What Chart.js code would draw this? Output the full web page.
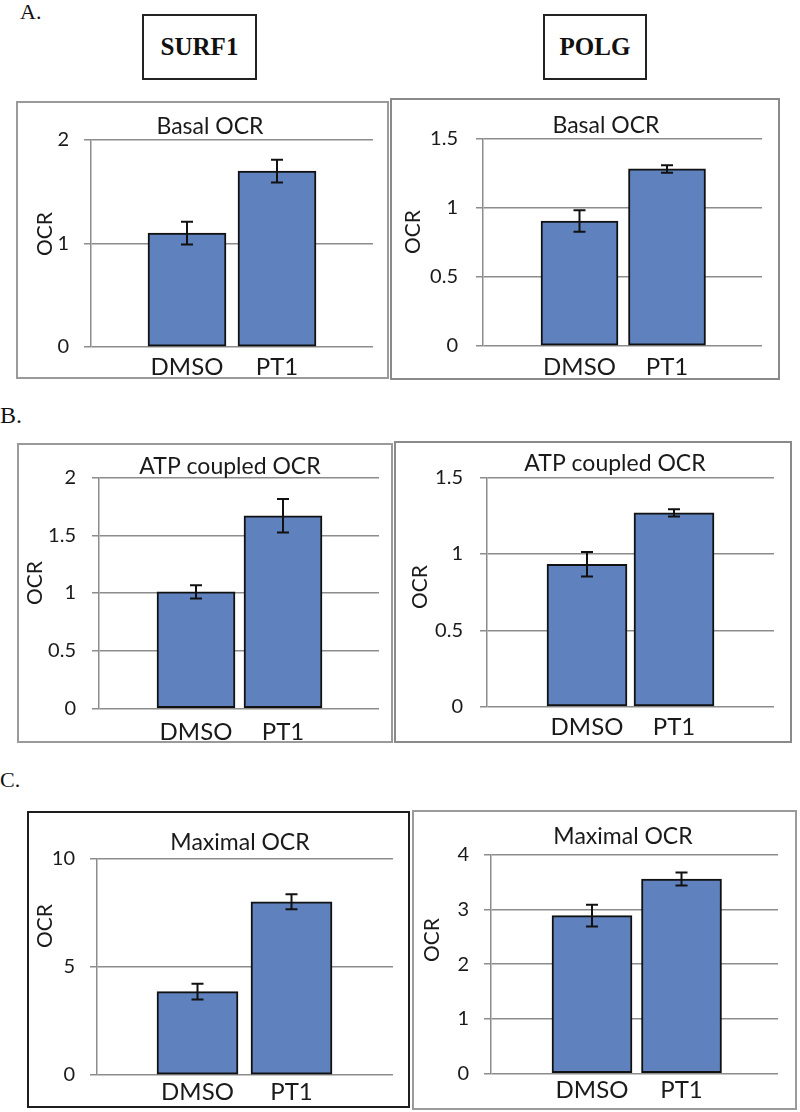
<!DOCTYPE html>
<html><head><meta charset="utf-8">
<script src="https://cdn.jsdelivr.net/npm/chart.js@4.4.1/dist/chart.umd.min.js"></script>
<style>
body{margin:0;background:#fff;width:800px;height:1112px;position:relative;overflow:hidden;font-family:Lato,sans-serif}
.frame{position:absolute;box-sizing:border-box;}
.lbl{position:absolute;font-family:'Liberation Serif',serif;line-height:1;color:#111;white-space:nowrap}
.gene{position:absolute;box-sizing:border-box;border:2px solid #222;display:flex;align-items:center;justify-content:center;font-family:'Liberation Serif',serif;font-weight:bold;font-size:25px;color:#111}
canvas{position:absolute}
</style></head><body>
<div class="lbl" style="left:20px;top:1px;font-size:22px">A.</div>
<div class="lbl" style="left:0px;top:403px;font-size:24px">B.</div>
<div class="lbl" style="left:0px;top:769px;font-size:22px">C.</div>
<div class="gene" style="left:142px;top:14px;width:115px;height:66px">SURF1</div>
<div class="gene" style="left:543px;top:14px;width:104px;height:66px">POLG</div>
<script>
// ---- data ----
const categories = ['DMSO', 'PT1'];

const basalSURF1 = [1.10, 1.70];
const basalSURF1Err = [0.11, 0.11];
const basalPOLG = [0.905, 1.283];
const basalPOLGErr = [0.078, 0.027];

const atpSURF1 = [1.01, 1.67];
const atpSURF1Err = [0.057, 0.145];
const atpPOLG = [0.933, 1.270];
const atpPOLGErr = [0.080, 0.024];

const maxSURF1 = [3.86, 8.02];
const maxSURF1Err = [0.36, 0.35];
const maxPOLG = [2.89, 3.56];
const maxPOLGErr = [0.20, 0.12];

const ticksBasalSURF1 = [0, 1, 2];
const ticksBasalPOLG = [0, 0.5, 1, 1.5];
const ticksAtpSURF1 = [0, 0.5, 1, 1.5, 2];
const ticksAtpPOLG = [0, 0.5, 1, 1.5];
const ticksMaxSURF1 = [0, 5, 10];
const ticksMaxPOLG = [0, 1, 2, 3, 4];

const titles = ['Basal OCR', 'ATP coupled OCR', 'Maximal OCR'];
const yAxisTitle = 'OCR';

// ---- layout (page pixel geometry) ----
const panels = [
  {title: titles[0], values: basalSURF1, errors: basalSURF1Err, ticks: ticksBasalSURF1,
   frame: {x: 16, y: 101, w: 373, h: 278, color: '#9a9a9a'},
   area: {l: 91, r: 373, t: 140, b: 347}, titleX: 210, titleY: 127, ocrX: 45, ocrY: 234, tickRight: 69, labelY: 367,
   barW: 78, c0: 187, c1: 277},
  {title: titles[0], values: basalPOLG, errors: basalPOLGErr, ticks: ticksBasalPOLG,
   frame: {x: 390, y: 98, w: 390, h: 282, color: '#8a8a8a'},
   area: {l: 483, r: 762, t: 139, b: 346}, titleX: 606, titleY: 126, ocrX: 413, ocrY: 232, tickRight: 458, labelY: 367,
   barW: 77, c0: 579.5, c1: 667},
  {title: titles[1], values: atpSURF1, errors: atpSURF1Err, ticks: ticksAtpSURF1,
   frame: {x: 17, y: 443, w: 376, h: 300, color: '#9a9a9a'},
   area: {l: 99, r: 379, t: 477.7, b: 708.3}, titleX: 230, titleY: 467, ocrX: 35, ocrY: 583, tickRight: 76, labelY: 732,
   barW: 78, c0: 196, c1: 283},
  {title: titles[1], values: atpPOLG, errors: atpPOLGErr, ticks: ticksAtpPOLG,
   frame: {x: 394, y: 441, w: 398, h: 302, color: '#8a8a8a'},
   area: {l: 487, r: 774, t: 477.7, b: 706.7}, titleX: 615, titleY: 464, ocrX: 420, ocrY: 587, tickRight: 463, labelY: 727,
   barW: 80, c0: 587, c1: 674},
  {title: titles[2], values: maxSURF1, errors: maxSURF1Err, ticks: ticksMaxSURF1,
   frame: {x: 27, y: 811, w: 383, h: 297, color: '#1e1e1e'},
   area: {l: 97, r: 393, t: 859, b: 1075}, titleX: 240, titleY: 843, ocrX: 45, ocrY: 926, tickRight: 75, labelY: 1092,
   barW: 81, c0: 197.5, c1: 291.5},
  {title: titles[2], values: maxPOLG, errors: maxPOLGErr, ticks: ticksMaxPOLG,
   frame: {x: 412, y: 810, w: 385, h: 300, color: '#9a9a9a'},
   area: {l: 491, r: 778, t: 855, b: 1073.3}, titleX: 623, titleY: 837, ocrX: 432, ocrY: 940, tickRight: 469, labelY: 1090,
   barW: 80, c0: 592, c1: 681.5}
];

const errPlugin = {
  id: 'errbars',
  afterDatasetsDraw(chart) {
    const ctx = chart.ctx, ys = chart.scales.y;
    chart.data.datasets.forEach((ds, di) => {
      const meta = chart.getDatasetMeta(di);
      meta.data.forEach((el, i) => {
        const v = ds.data[i].y, e = ds.errors[i];
        const top = ys.getPixelForValue(v + e), bot = ys.getPixelForValue(v - e);
        ctx.save();
        ctx.strokeStyle = '#111'; ctx.lineWidth = 2;
        ctx.beginPath();
        ctx.moveTo(el.x, top); ctx.lineTo(el.x, bot);
        ctx.moveTo(el.x - 6, top); ctx.lineTo(el.x + 6, top);
        ctx.moveTo(el.x - 6, bot); ctx.lineTo(el.x + 6, bot);
        ctx.stroke();
        ctx.restore();
      });
    });
  }
};

const FT = 23, FX = 24, FY = 20, FO = 21;
const TXT = '#1a1a1a';

function build(p) {
  const f = p.frame, a = p.area;
  const fr = document.createElement('div');
  fr.className = 'frame';
  Object.assign(fr.style, {left: f.x + 'px', top: f.y + 'px', width: f.w + 'px', height: f.h + 'px', border: '2px solid ' + f.color});
  document.body.appendChild(fr);

  const oLH = FO * 1.2;
  // title spans [S, E] centred on titleX; y scale box starts at S
  const S = Math.min(2 * p.titleX - a.r, p.ocrX - oLH / 2 - 2);
  const E = 2 * p.titleX - S;
  const rightBox = E - a.r;
  const X0 = Math.min(f.x, S), Y0 = f.y;
  const Wc = Math.ceil(Math.max(f.x + f.w, E) - X0);
  const Hc = f.h;

  const c = document.createElement('canvas');
  c.width = Wc; c.height = Hc;
  Object.assign(c.style, {left: X0 + 'px', top: Y0 + 'px', width: Wc + 'px', height: Hc + 'px'});
  document.body.appendChild(c);

  const L = S - X0;
  const R = X0 + Wc - E;
  const yW = a.l - S;
  const xH = Y0 + Hc - a.b;
  const tLH = FT * 1.2;
  const tPadTop = p.titleY - Y0 - tLH / 2;
  const tPadBot = a.t - Y0 - tPadTop - tLH;
  const tickLen = 7;
  const yTickPad = a.l - tickLen - p.tickRight;
  const xLH = FX * 1.2;
  const xPad = p.labelY - a.b - xLH / 2;
  const d = p.c1 - p.c0;
  const xmin = -(p.c0 - a.l) / d;
  const xmax = xmin + (a.r - a.l) / d;

  // y-axis title drawn rotated at the position it has in the figure
  const axisTitlePlugin = {
    id: 'axisTitle',
    afterDraw(chart) {
      const ctx = chart.ctx;
      ctx.save();
      ctx.translate(p.ocrX - X0, p.ocrY - Y0);
      ctx.rotate(-Math.PI / 2);
      ctx.font = FO + 'px Lato';
      ctx.fillStyle = TXT;
      ctx.textAlign = 'center';
      ctx.textBaseline = 'middle';
      ctx.fillText(yAxisTitle, 0, 0);
      ctx.restore();
    }
  };

  new Chart(c, {
    type: 'bar',
    data: {datasets: [{
      data: p.values.map((v, i) => ({x: i, y: v})),
      errors: p.errors,
      xAxisID: 'x', yAxisID: 'y',
      backgroundColor: '#5f82bf', borderColor: '#111', borderWidth: 2, borderSkipped: false,
      barThickness: p.barW
    }]},
    options: {
      responsive: false, animation: false, devicePixelRatio: 1,
      layout: {padding: {left: L, right: R, top: 0, bottom: 0}},
      plugins: {
        legend: {display: false}, tooltip: {enabled: false},
        title: {display: true, text: p.title, color: TXT,
          font: {family: 'Lato', size: FT, weight: 'normal', lineHeight: 1.2},
          padding: {top: tPadTop, bottom: tPadBot}}
      },
      scales: {
        y: {position: 'left', min: 0, max: p.ticks[p.ticks.length - 1],
          afterBuildTicks: s => { s.ticks = p.ticks.map(v => ({value: v})); },
          grid: {color: '#8c8c8c', lineWidth: 1.5, drawTicks: true, tickLength: tickLen},
          border: {display: true, color: '#8c8c8c', width: 1.5},
          ticks: {padding: yTickPad, color: TXT, font: {family: 'Lato', size: FY}, callback: v => String(v)},
          title: {display: false, text: yAxisTitle},
          afterFit: s => { s.width = yW; }},
        x: {type: 'linear', position: 'bottom', min: xmin, max: xmax, offset: false, bounds: 'data',
          grid: {display: false, drawTicks: false, offset: false}, border: {display: false},
          afterBuildTicks: s => { s.ticks = categories.map((_, i) => ({value: i})); },
          ticks: {padding: xPad, color: TXT, font: {family: 'Lato', size: FX, lineHeight: 1.2},
            autoSkip: false, maxRotation: 0, callback: v => categories[v]},
          afterFit: s => { s.height = xH; }},
        spacer: {type: 'linear', position: 'right', display: true,
          grid: {display: false, drawTicks: false}, border: {display: false}, ticks: {display: false},
          afterFit: s => { s.width = rightBox; }}
      }
    },
    plugins: [errPlugin, axisTitlePlugin]
  });
}

function drawAll() { panels.forEach(build); }
if (document.fonts && document.fonts.load) {
  Promise.all([document.fonts.load('22px Lato'), document.fonts.load('bold 24px "Liberation Serif"')])
    .then(drawAll, drawAll);
} else drawAll();
</script>
</body></html>
